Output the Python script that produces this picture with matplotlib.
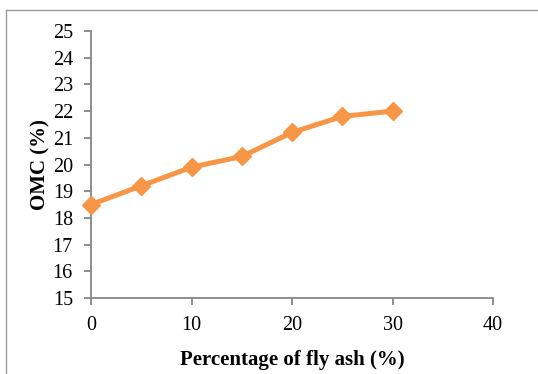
import matplotlib
matplotlib.use("Agg")
import matplotlib.pyplot as plt
from matplotlib.lines import Line2D

# ── data ────────────────────────────────────────────────────────────────────
fly_ash = [0, 5, 10, 15, 20, 25, 30]
omc = [18.5, 19.2, 19.9, 20.3, 21.2, 21.8, 22.0]
x_ticks = [0, 10, 20, 30, 40]
y_ticks = [15, 16, 17, 18, 19, 20, 21, 22, 23, 24, 25]

plt.rcParams["font.family"] = ["Liberation Serif", "DejaVu Serif"]

W, H = 538, 374
fig = plt.figure(figsize=(W / 100, H / 100), dpi=100)
ax = fig.add_axes([91 / W, 1 - 298 / H, (493 - 91) / W, (298 - 31) / H])

ax.plot(fly_ash, omc, color="#F79646", lw=3.6, marker="D", ms=9.5,
        mfc="#F79646", mec="#F79646", mew=1, solid_joinstyle="round",
        clip_on=False, zorder=3)

ax.set_xlim(0, 40)
ax.set_ylim(15, 25)
ax.set_xticks(x_ticks)
ax.set_yticks(y_ticks)

axis_gray = "#868686"
for side in ["top", "right"]:
    ax.spines[side].set_visible(False)
for side in ["left", "bottom"]:
    ax.spines[side].set_color(axis_gray)
    ax.spines[side].set_linewidth(1.3)
ax.tick_params(direction="out", length=5, width=1.3, color=axis_gray,
               labelsize=14.5, labelcolor="black")
ax.tick_params(axis="x", pad=8)
ax.tick_params(axis="y", pad=8)

ax.set_xlabel("Percentage of fly ash (%)", fontsize=15, fontweight="bold")
ax.set_ylabel("OMC (%)", fontsize=15, fontweight="bold")
ax.xaxis.set_label_coords(0.5, -(360 - 298) / (298 - 31), transform=ax.transAxes)
ax.xaxis.label.set_va("center")
ax.yaxis.set_label_coords(-(91 - 40) / (493 - 91), 0.5, transform=ax.transAxes)
ax.yaxis.label.set_va("center")

# chart-area border (only left and top edges visible in the crop)
border = "#9a9a9a"
fig.add_artist(Line2D([6 / W, 6 / W], [0, 1 - 10 / H], transform=fig.transFigure,
                      color=border, lw=1))
fig.add_artist(Line2D([6 / W, 1], [1 - 10 / H, 1 - 10 / H], transform=fig.transFigure,
                      color=border, lw=1))

fig.savefig("out.png", dpi=100)
